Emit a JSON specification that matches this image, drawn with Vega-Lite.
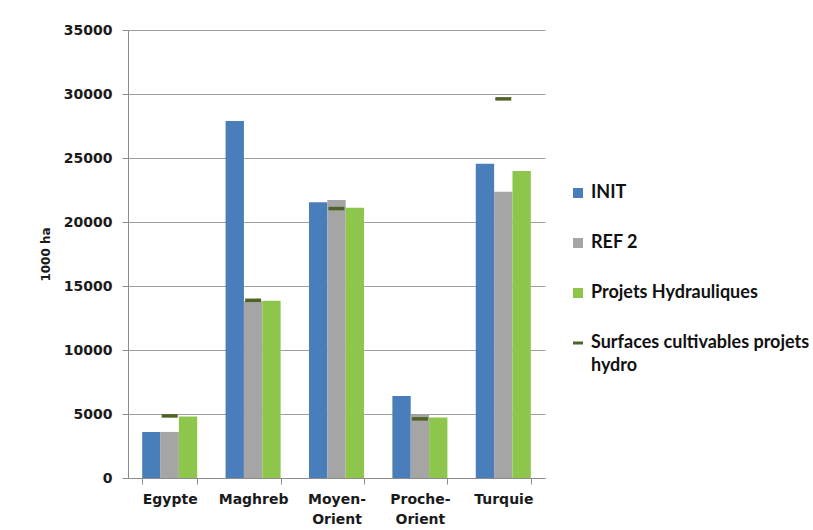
{
  "$schema": "https://vega.github.io/schema/vega-lite/v6.json",
  "width": 417,
  "height": 448,
  "padding": {"left": 39, "top": 23, "right": 5, "bottom": 5},
  "background": "white",
  "config": {
    "view": {"stroke": null},
    "font": "DejaVu Sans"
  },
  "datasets": {
    "bars": [
      {"region": "Egypte", "serie": "INIT", "value": 3600},
      {"region": "Egypte", "serie": "REF 2", "value": 3600},
      {"region": "Egypte", "serie": "Projets Hydrauliques", "value": 4800},
      {"region": "Maghreb", "serie": "INIT", "value": 27900},
      {"region": "Maghreb", "serie": "REF 2", "value": 13800},
      {"region": "Maghreb", "serie": "Projets Hydrauliques", "value": 13850},
      {"region": "Moyen-Orient", "serie": "INIT", "value": 21550},
      {"region": "Moyen-Orient", "serie": "REF 2", "value": 21720},
      {"region": "Moyen-Orient", "serie": "Projets Hydrauliques", "value": 21120},
      {"region": "Proche-Orient", "serie": "INIT", "value": 6400},
      {"region": "Proche-Orient", "serie": "REF 2", "value": 4950},
      {"region": "Proche-Orient", "serie": "Projets Hydrauliques", "value": 4720},
      {"region": "Turquie", "serie": "INIT", "value": 24550},
      {"region": "Turquie", "serie": "REF 2", "value": 22370},
      {"region": "Turquie", "serie": "Projets Hydrauliques", "value": 23980}
    ],
    "dash": [
      {"region": "Egypte", "serie": "Surfaces cultivables projets hydro", "value": 4850},
      {"region": "Maghreb", "serie": "Surfaces cultivables projets hydro", "value": 13880},
      {"region": "Moyen-Orient", "serie": "Surfaces cultivables projets hydro", "value": 21050},
      {"region": "Proche-Orient", "serie": "Surfaces cultivables projets hydro", "value": 4620},
      {"region": "Turquie", "serie": "Surfaces cultivables projets hydro", "value": 29620}
    ]
  },
  "encoding": {
    "x": {
      "field": "region",
      "type": "nominal",
      "sort": ["Egypte", "Maghreb", "Moyen-Orient", "Proche-Orient", "Turquie"],
      "scale": {"paddingInner": 0.34, "paddingOuter": 0.17},
      "axis": {
        "title": null,
        "labelAngle": 0,
        "labelFont": "DejaVu Sans",
        "labelFontWeight": "bold",
        "labelFontSize": 14,
        "labelColor": "#1a1a1a",
        "labelPadding": 8,
        "labelLineHeight": 20,
        "labelExpr": "datum.label == 'Moyen-Orient' ? ['Moyen-', 'Orient'] : datum.label == 'Proche-Orient' ? ['Proche-', 'Orient'] : datum.label",
        "tickBand": "extent",
        "tickSize": 6,
        "tickColor": "#8c8c8c",
        "domainColor": "#8c8c8c",
        "grid": false
      }
    },
    "y": {
      "field": "value",
      "type": "quantitative",
      "scale": {"domain": [0, 35000], "nice": false},
      "axis": {
        "title": "1000 ha",
        "titleFont": "DejaVu Sans",
        "titleFontWeight": "bold",
        "titleFontSize": 12,
        "titleColor": "#1a1a1a",
        "titlePadding": 11,
        "values": [0, 5000, 10000, 15000, 20000, 25000, 30000, 35000],
        "format": "d",
        "labelFont": "DejaVu Sans",
        "labelFontWeight": "bold",
        "labelFontSize": 14,
        "labelColor": "#1a1a1a",
        "labelPadding": 10,
        "tickSize": 6,
        "tickColor": "#8c8c8c",
        "domainColor": "#8c8c8c",
        "gridColor": "#a0a0a0",
        "gridWidth": 1
      }
    },
    "color": {
      "field": "serie",
      "type": "nominal",
      "scale": {
        "domain": ["INIT", "REF 2", "Projets Hydrauliques", "Surfaces cultivables projets hydro"],
        "range": ["#4a7ebb", "#a5a5a5", "#8dc64b", "#4f6228"]
      },
      "legend": {
        "title": null,
        "orient": "none",
        "legendX": 441,
        "legendY": 154,
        "padding": 0,
        "labelFont": "Lato",
        "labelFontWeight": "bold",
        "labelFontSize": 18,
        "labelColor": "#111111",
        "labelOffset": 4,
        "labelLimit": 300,
        "rowPadding": 32,
        "symbolSize": 100,
        "labelExpr": "datum.label == 'Surfaces cultivables projets hydro' ? ['Surfaces cultivables projets', 'hydro'] : datum.label",
        "encode": {
          "labels": {
            "update": {
              "lineHeight": {"value": 23}
            }
          },
          "symbols": {
            "update": {
              "shape": {"signal": "datum.value == 'Surfaces cultivables projets hydro' ? 'stroke' : 'square'"},
              "fill": {"signal": "scale('color', datum.value)"},
              "stroke": {"signal": "scale('color', datum.value)"},
              "strokeWidth": {"signal": "datum.value == 'Surfaces cultivables projets hydro' ? 3 : 0"},
              "opacity": {"value": 1}
            }
          }
        }
      }
    }
  },
  "layer": [
    {
      "data": {"name": "bars"},
      "mark": {"type": "bar"},
      "encoding": {
        "xOffset": {"field": "serie", "type": "nominal", "sort": ["INIT", "REF 2", "Projets Hydrauliques"], "scale": {"paddingInner": 0}}
      }
    },
    {
      "data": {"name": "dash"},
      "mark": {"type": "tick", "orient": "horizontal", "size": 16, "thickness": 3.5, "opacity": 1}
    }
  ]
}
